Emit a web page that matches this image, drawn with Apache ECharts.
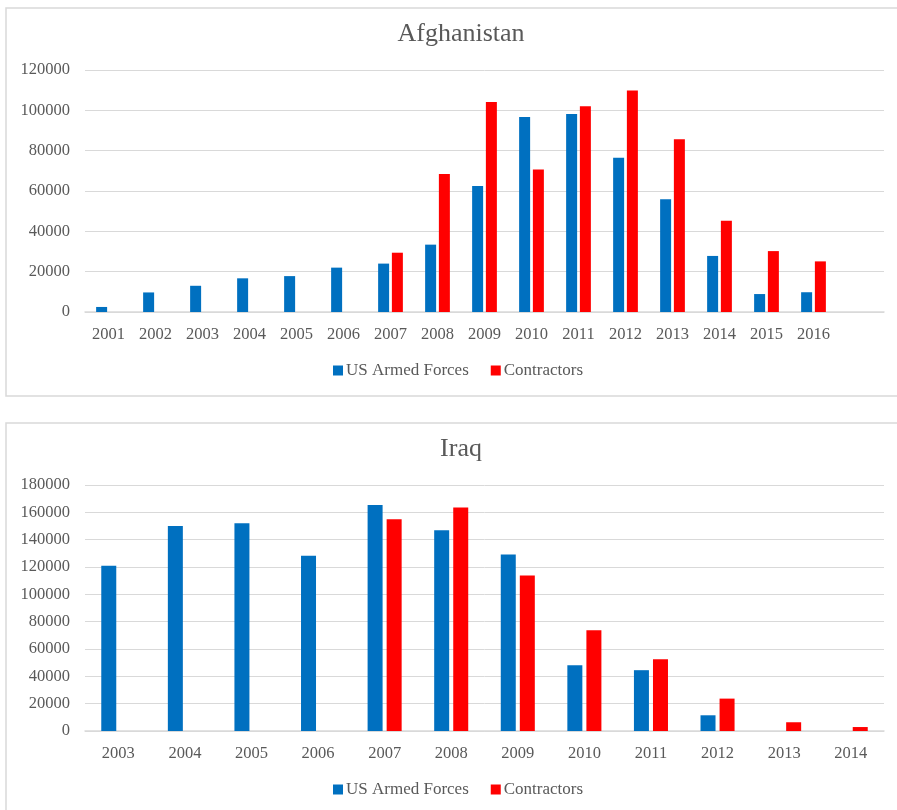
<!DOCTYPE html>
<html>
<head>
<meta charset="utf-8">
<title>US Armed Forces and Contractors</title>
<script src="https://cdn.jsdelivr.net/npm/echarts@6/dist/echarts.min.js"></script>
<style>
  html, body { margin: 0; padding: 0; background: #fff; overflow: hidden; }
  #chart { width: 897px; height: 810px; }
</style>
</head>
<body>
<div id="chart"></div>
<script>
// Afghanistan: personnel by year (last slot left empty on the axis)
var afgYears = ['2001', '2002', '2003', '2004', '2005', '2006', '2007', '2008',
  '2009', '2010', '2011', '2012', '2013', '2014', '2015', '2016', ''];
var afgTroops = [2500, 9700, 13000, 16700, 17800, 22000, 24000, 33400,
  62500, 96700, 98200, 76500, 55900, 27800, 8900, 9800, null];
var afgContractors = [null, null, null, null, null, null, 29400, 68400,
  104100, 70600, 102000, 109800, 85600, 45300, 30200, 25100, null];
var afgTicks = [0, 20000, 40000, 60000, 80000, 100000, 120000];

// Iraq: personnel by year
var iraqYears = ['2003', '2004', '2005', '2006', '2007', '2008', '2009',
  '2010', '2011', '2012', '2013', '2014'];
var iraqTroops = [121000, 150000, 152000, 128200, 165300, 146800, 129200,
  48100, 44500, 11500, null, null];
var iraqContractors = [null, null, null, null, 154900, 163600, 113800,
  73800, 52500, 23700, 6400, 2900];
var iraqTicks = [0, 20000, 40000, 60000, 80000, 100000, 120000, 140000, 160000, 180000];

var seriesNames = ['US Armed Forces', 'Contractors'];
var colors = ['#0070c0', '#ff0000'];

var FONT = '"Liberation Serif", "Times New Roman", serif';
var TEXT = '#595959';
var GRID_LINE = '#d9d9d9';

function xAxisFor(idx, cats) {
  return {
    type: 'category', gridIndex: idx, data: cats,
    axisTick: { show: false },
    axisLine: { lineStyle: { color: GRID_LINE, width: 1.5 } },
    axisLabel: { interval: 0, color: TEXT, fontFamily: FONT, fontSize: 16.5, margin: 14 }
  };
}
function yAxisFor(idx, ticks) {
  return {
    type: 'value', gridIndex: idx,
    min: ticks[0], max: ticks[ticks.length - 1], interval: ticks[1] - ticks[0],
    axisLine: { show: false }, axisTick: { show: false },
    splitLine: { lineStyle: { color: GRID_LINE, width: 1 } },
    axisLabel: {
      color: TEXT, fontFamily: FONT, fontSize: 16.5, margin: 15,
      formatter: function (v) { return String(v); }
    }
  };
}
function bars(name, data, idx, color, width, gap) {
  return {
    type: 'bar', name: name, data: data,
    xAxisIndex: idx, yAxisIndex: idx,
    barWidth: width, barGap: gap,
    itemStyle: { color: color },
    animation: false
  };
}

var chart = echarts.init(document.getElementById('chart'), null, { renderer: 'canvas' });
chart.setOption({
  animation: false,
  color: colors,
  graphic: [
    { type: 'rect', shape: { x: 6, y: 8, width: 910, height: 388 },
      style: { fill: 'none', stroke: '#d9d9d9', lineWidth: 1.5 }, silent: true, z: -1 },
    { type: 'rect', shape: { x: 6, y: 423, width: 910, height: 420 },
      style: { fill: 'none', stroke: '#d9d9d9', lineWidth: 1.5 }, silent: true, z: -1 }
  ],
  title: [
    { text: 'Afghanistan', left: 456, top: 16, textAlign: 'center',
      textStyle: { fontFamily: FONT, fontSize: 26, fontWeight: 'normal', color: TEXT } },
    { text: 'Iraq', left: 456, top: 431, textAlign: 'center',
      textStyle: { fontFamily: FONT, fontSize: 26, fontWeight: 'normal', color: TEXT } }
  ],
  legend: [
    { data: seriesNames, left: 328, top: 357, itemWidth: 10, itemHeight: 10, itemGap: 22,
      icon: 'rect', selectedMode: false,
      textStyle: { fontFamily: FONT, fontSize: 17, color: TEXT, padding: [0, 0, 0, -2] } },
    { data: seriesNames, left: 328, top: 776, itemWidth: 10, itemHeight: 10, itemGap: 22,
      icon: 'rect', selectedMode: false,
      textStyle: { fontFamily: FONT, fontSize: 17, color: TEXT, padding: [0, 0, 0, -2] } }
  ],
  grid: [
    { left: 85, right: 13, top: 70, height: 242 },
    { left: 85, right: 13, top: 485, height: 246 }
  ],
  xAxis: [xAxisFor(0, afgYears), xAxisFor(1, iraqYears)],
  yAxis: [yAxisFor(0, afgTicks), yAxisFor(1, iraqTicks)],
  series: [
    bars(seriesNames[0], afgTroops, 0, colors[0], 11, '25%'),
    bars(seriesNames[1], afgContractors, 0, colors[1], 11, '25%'),
    bars(seriesNames[0], iraqTroops, 1, colors[0], 15, '27%'),
    bars(seriesNames[1], iraqContractors, 1, colors[1], 15, '27%')
  ]
});
</script>
</body>
</html>
